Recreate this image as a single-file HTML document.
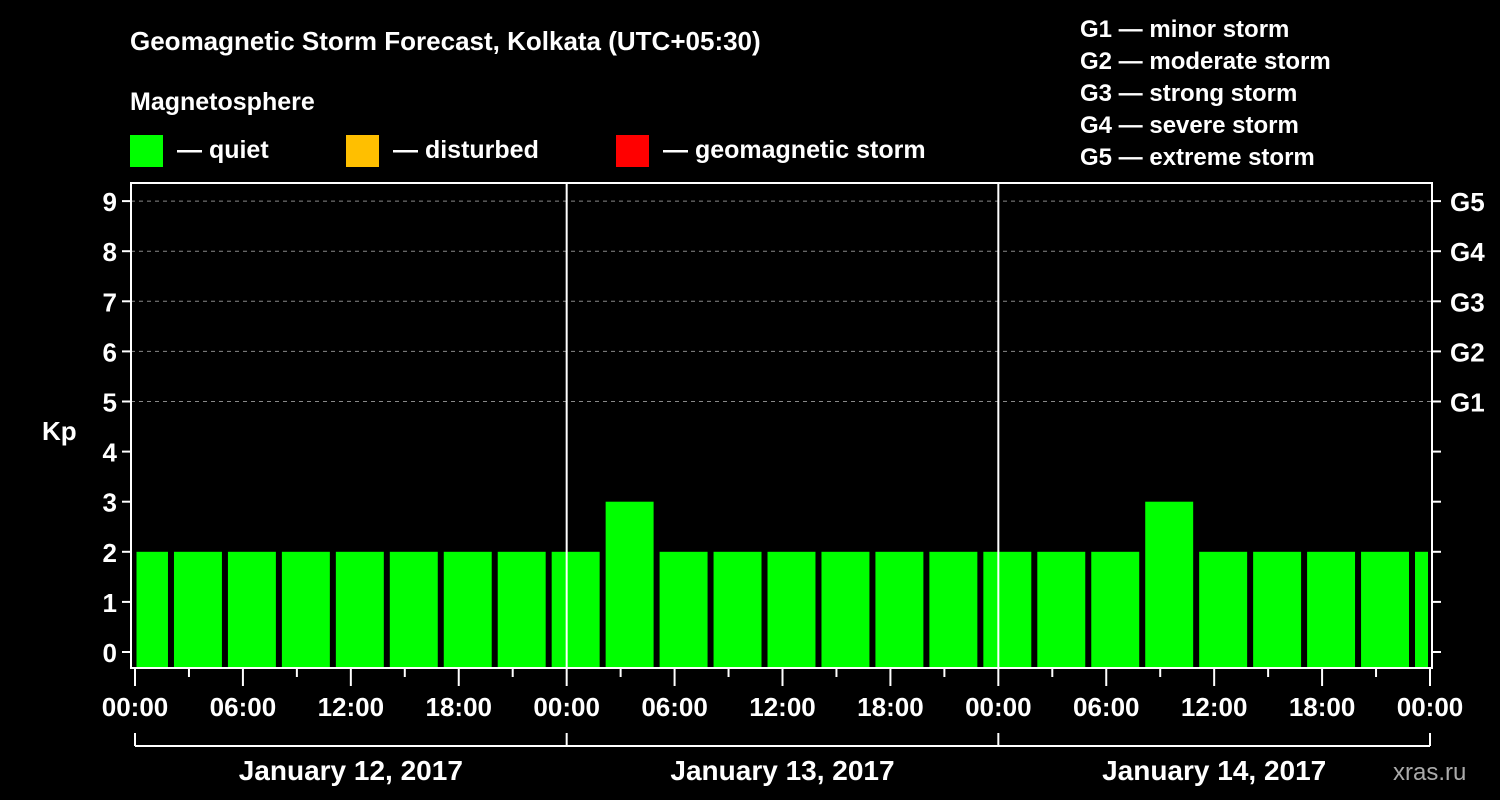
<!DOCTYPE html>
<html><head><meta charset="utf-8"><style>
body{margin:0;background:#000;}
svg{display:block;font-family:"Liberation Sans",Arial,sans-serif;font-weight:bold;}
</style></head><body>
<svg id="chart" width="1500" height="800" viewBox="0 0 1500 800">
<g fill="#fff" font-size="26">
<text x="130" y="50">Geomagnetic Storm Forecast, Kolkata (UTC+05:30)</text>
<text x="130" y="110" font-size="25">Magnetosphere</text>
<rect x="130" y="135" width="33" height="32" fill="#00ff00"/>
<text x="177" y="158" font-size="25">— quiet</text>
<rect x="346" y="135" width="33" height="32" fill="#ffbf00"/>
<text x="393" y="158" font-size="25">— disturbed</text>
<rect x="616" y="135" width="33" height="32" fill="#ff0000"/>
<text x="663" y="158" font-size="25">— geomagnetic storm</text>
<g font-size="24">
<text x="1080" y="37">G1 — minor storm</text>
<text x="1080" y="69">G2 — moderate storm</text>
<text x="1080" y="101">G3 — strong storm</text>
<text x="1080" y="133">G4 — severe storm</text>
<text x="1080" y="165">G5 — extreme storm</text>
</g>
<text x="42" y="440">Kp</text>
<text x="1393" y="780" fill="#aaa" font-size="24" font-weight="normal">xras.ru</text>
</g>
<g id="plot"></g>
</svg>
<script>
const kpValues=[2,2,2,2,2,2,2,2,2,3,2,2,2,2,2,2,2,2,2,3,2,2,2,2,2];
const yTicks=[0,1,2,3,4,5,6,7,8,9];
const gLabels=["G1","G2","G3","G4","G5"];
const gLevels=[5,6,7,8,9];
const xTickLabels=["00:00","06:00","12:00","18:00","00:00","06:00","12:00","18:00","00:00","06:00","12:00","18:00","00:00"];
const dayLabels=["January 12, 2017","January 13, 2017","January 14, 2017"];
const binOffset=2, binHours=3, totalHours=72;

const L=131,R=1432,T=183,B=668;
const x0=135,x1=1430;
const xs=h=>x0+(x1-x0)*h/totalHours;
const ys=v=>652-v*50.1;
const NS="http://www.w3.org/2000/svg";
const g=document.getElementById('plot');
function mk(tag,attrs,parent){const e=document.createElementNS(NS,tag);for(const k in attrs)e.setAttribute(k,attrs[k]);(parent||g).appendChild(e);return e;}

// grid
gLevels.forEach((v,i)=>{
  const l=mk('line',{x1:L,x2:R,y1:ys(v),y2:ys(v),stroke:'#888','stroke-dasharray':'4,4','stroke-width':1});
  
  
  const t=mk('text',{x:1450,y:ys(v)+10,fill:'#fff','font-size':26});
  t.textContent=gLabels[i];
  
  
});
// bars
kpValues.forEach((v,i)=>{
  const hs=i===0?0:binOffset+(i-1)*binHours;
  const he=Math.min(totalHours,binOffset+i*binHours);
  const xa=i===0?xs(hs)+1.5:xs(hs)+3;
  const xb=he>=totalHours?xs(he)-2:xs(he)-3;
  const color=v>=5?'#ff0000':(v>=4?'#ffbf00':'#00ff00');
  const r=mk('rect',{x:xa,y:ys(v),width:xb-xa,height:B-ys(v),fill:color});
  
  
});
// day separators
[24,48].forEach(h=>{
  const l=mk('line',{x1:xs(h),x2:xs(h),y1:T,y2:B,stroke:'#fff','stroke-width':2});
  
  
});
// frame
const f=mk('rect',{x:L,y:T,width:R-L,height:B-T,fill:'none',stroke:'#fff','stroke-width':2});


// y ticks
yTicks.forEach(v=>{
  const y=ys(v);
  mk('line',{x1:122,x2:L,y1:y,y2:y,stroke:'#fff','stroke-width':2});
  mk('line',{x1:R,x2:1441,y1:y,y2:y,stroke:'#fff','stroke-width':2});
  const t=mk('text',{x:117,y:y+10,fill:'#fff','font-size':26,'text-anchor':'end'});
  t.textContent=v;
  
  
});
// x ticks
for(let h=0;h<=totalHours;h+=3){
  const major=h%6===0;
  mk('line',{x1:xs(h),x2:xs(h),y1:B,y2:major?686:677,stroke:'#fff','stroke-width':2});
}
xTickLabels.forEach((s,i)=>{
  const t=mk('text',{x:xs(i*6),y:716,fill:'#fff','font-size':26,'text-anchor':'middle'});
  t.textContent=s;
  
  
});
// day bracket
mk('line',{x1:x0,x2:x1,y1:746,y2:746,stroke:'#fff','stroke-width':2});
[0,24,48,72].forEach(h=>mk('line',{x1:xs(h),x2:xs(h),y1:733,y2:746,stroke:'#fff','stroke-width':2}));
dayLabels.forEach((s,i)=>{
  const t=mk('text',{x:xs(i*24+12),y:780,fill:'#fff','font-size':28,'text-anchor':'middle'});
  t.textContent=s;
  
  
});
</script>
</body></html>
